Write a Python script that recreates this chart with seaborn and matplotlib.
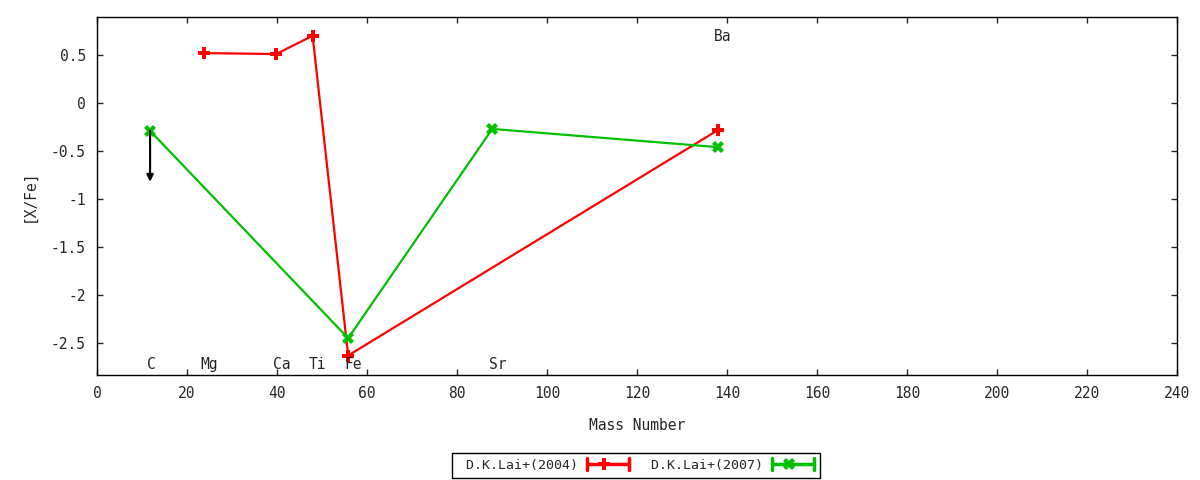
import matplotlib
matplotlib.use("Agg")
import matplotlib.pyplot as plt
import matplotlib.ticker as mticker
from matplotlib.legend_handler import HandlerBase
from matplotlib.lines import Line2D
import seaborn as sns
import pandas as pd

# D.K.Lai+(2004)
lai04_mass = [23.7, 39.8, 47.9, 55.8, 138]
lai04_xfe = [0.52, 0.51, 0.70, -2.63, -0.28]
# D.K.Lai+(2007)
lai07_mass = [11.8, 55.8, 87.8, 138]
lai07_xfe = [-0.29, -2.45, -0.27, -0.46]

# upper limit (C)
limit_mass = [11.8]
limit_from = [-0.29]
limit_to = [-0.82]

# element labels
elements = ['C', 'Mg', 'Ca', 'Ti', 'Fe', 'Sr', 'Ba']
elem_x = [12, 25, 41, 49, 57, 89, 139]
elem_y = [-2.72, -2.72, -2.72, -2.72, -2.72, -2.72, 0.69]

yticks = [0.5, 0, -0.5, -1, -1.5, -2, -2.5]

sns.set_style("ticks")
plt.rcParams['font.family'] = ['DejaVu Sans Mono', 'DejaVu Sans']
plt.rcParams['axes.unicode_minus'] = False
plt.rcParams['font.size'] = 10


class CapHandler(HandlerBase):
    # gnuplot-like legend sample: line with end caps and a marker
    def create_artists(self, legend, orig, xd, yd, width, height, fontsize, trans):
        c = orig.get_color()
        y = height / 2 - yd
        x0, x1 = -xd, -xd + width
        ln = Line2D([x0, x1], [y, y], color=c, lw=2.5, transform=trans)
        cap0 = Line2D([x0, x0], [y - 4, y + 4], color=c, lw=2.5, transform=trans)
        cap1 = Line2D([x1, x1], [y - 4, y + 4], color=c, lw=2.5, transform=trans)
        mk = Line2D([(x0 + x1) / 2 - 3], [y], color=c, marker=orig.get_marker(),
                    markersize=8, markeredgewidth=0, linestyle='none', transform=trans)
        return [ln, cap0, cap1, mk]


df04 = pd.DataFrame({'mass': lai04_mass, 'xfe': lai04_xfe})
df07 = pd.DataFrame({'mass': lai07_mass, 'xfe': lai07_xfe})

fig = plt.figure(figsize=(12, 4.8), dpi=100)
ax = fig.add_axes([0.0808, 0.21875, 0.9004, 0.74585])

sns.lineplot(data=df04, x='mass', y='xfe', sort=False, color='#ff0000', lw=1.6,
             marker='P', markersize=8.5, markeredgewidth=0, ax=ax)
sns.lineplot(data=df07, x='mass', y='xfe', sort=False, color='#00c000', lw=1.6,
             marker='X', markersize=8.5, markeredgewidth=0, ax=ax)

for m, y0, y1 in zip(limit_mass, limit_from, limit_to):
    ax.annotate('', xy=(m, y1), xytext=(m, y0),
                arrowprops=dict(arrowstyle='-|>', color='black', lw=1.5,
                                mutation_scale=10, shrinkA=0, shrinkB=0))

for name, x, y in zip(elements, elem_x, elem_y):
    ax.text(x, y, name, ha='center', va='center', fontsize=10.5)

ax.set_xlim(0, 240)
ax.set_ylim(-2.833, 0.896)
ax.set_xticks(range(0, 241, 20))
ax.set_yticks(yticks)
ax.yaxis.set_major_formatter(mticker.FuncFormatter(lambda v, p: f'{v:g}'))
ax.tick_params(direction='in', top=True, right=True, length=4, width=1, labelsize=10.5, pad=8)
for s in ax.spines.values():
    s.set_linewidth(1)
    s.set_color('black')

ax.set_xlabel('Mass Number', fontsize=10.5, labelpad=12)
ax.set_ylabel('[X/Fe]', fontsize=10.5, labelpad=10)

h04 = Line2D([], [], color='#ff0000', marker='P')
h07 = Line2D([], [], color='#00c000', marker='X')
ax.legend([h04, h07], [' D.K.Lai+(2004)', ' D.K.Lai+(2007)'],
          handler_map={Line2D: CapHandler()},
          loc='center', bbox_to_anchor=(0.53, 0.031), bbox_transform=fig.transFigure,
          ncol=2, markerfirst=False, frameon=True, fancybox=False, edgecolor='black',
          framealpha=1, handlelength=3.25, handletextpad=0.68, columnspacing=1.0,
          borderpad=0.45, fontsize=9.5, borderaxespad=0)

fig.savefig('out.png', dpi=100)
